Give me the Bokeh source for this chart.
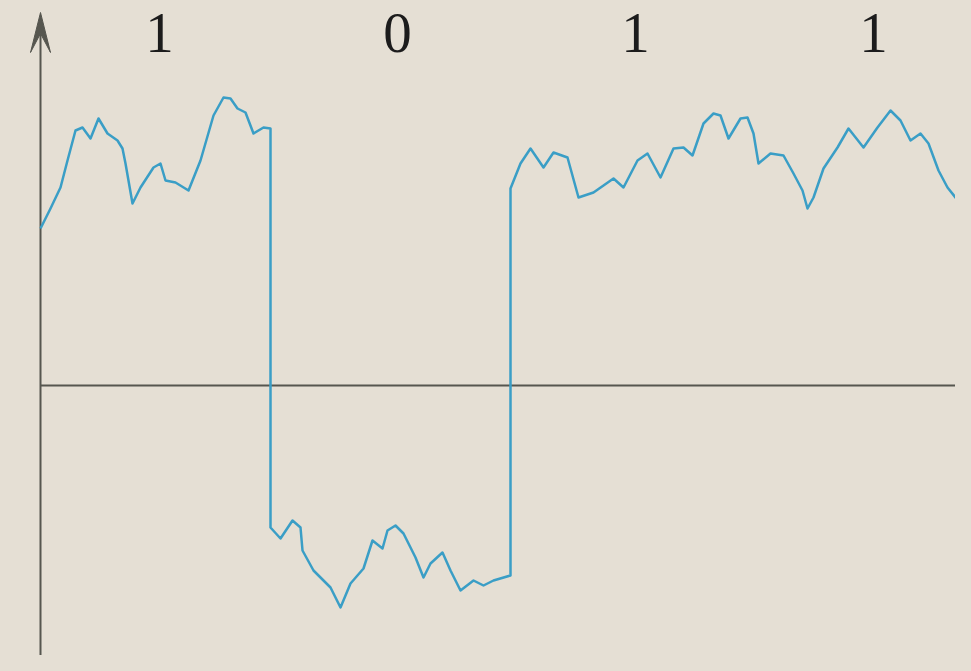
from bokeh.plotting import figure
from bokeh.models import Range1d
from bokeh.core.properties import value
from bokeh.embed import file_html
from bokeh.resources import INLINE

# Bit sequence and timing (time in µs, amplitude in mV)
bits = ["1", "0", "1", "1"]
bit_period = 238

# Noisy received signal
t = [0, 10, 20, 27, 35, 42, 50, 58, 67, 77, 82, 85, 92, 100, 113, 120, 125, 135, 148, 160,
     173, 183, 190, 197, 205, 213, 223, 230, 230, 240, 252, 260, 262, 273, 280, 290, 300,
     310, 323, 332, 342, 347, 355, 363, 375, 383, 390, 402, 410, 420, 433, 443, 453, 470,
     470, 480, 490, 503, 513, 527, 538, 553, 573, 583, 597, 607, 620, 633, 643, 652, 663,
     673, 680, 688, 700, 707, 713, 718, 730, 743, 753, 762, 767, 773, 783, 797, 808, 823,
     837, 850, 860, 870, 880, 888, 898, 907, 923]
v = [157, 177, 198, 225, 255, 258, 247, 267, 252, 245, 237, 222, 182, 198, 218, 222, 205, 203, 195, 225,
     270, 288, 287, 277, 273, 252, 258, 257, -142, -153, -135, -142, -165, -185, -192, -202, -222,
     -198, -183, -155, -163, -145, -140, -148, -172, -192, -178, -167, -185, -205, -195, -200, -195, -190,
     197, 222, 237, 218, 233, 228, 188, 193, 207, 198, 225, 232, 208, 237, 238, 230, 262,
     272, 270, 247, 267, 268, 252, 222, 232, 230, 212, 195, 177, 188, 217, 238, 257, 238,
     258, 275, 265, 245, 252, 242, 215, 198, 178]

BG = "#e5dfd4"
AXIS = "#56564f"
LINE = "#3a9ec6"

p = figure(width=955, height=655, output_backend="svg", toolbar_location=None,
           x_range=Range1d(-40, 915), y_range=Range1d(-270, 385),
           x_axis_type=None, y_axis_type=None, min_border=0,
           background_fill_color=BG, border_fill_color=BG, outline_line_color=None)
p.grid.visible = False

# axes
p.segment(x0=[0], y0=[0], x1=[915], y1=[0], line_color=AXIS, line_width=2)
p.segment(x0=[0], y0=[-270], x1=[0], y1=[352], line_color=AXIS, line_width=2)
# arrow head of the vertical axis
p.patch(x=[0, 10, 0, -10], y=[373, 333, 352, 333],
        fill_color=AXIS, line_color=AXIS, line_width=1, line_join="miter")

# signal
p.line(t, v, line_color=LINE, line_width=2.5, line_join="round")

# bit labels
centers = [(i + 0.5) * bit_period for i in range(len(bits))]
p.text(x=centers, y=[353] * len(bits), text=bits, text_align="center",
       text_baseline="middle", text_font=value("Liberation Serif"),
       text_font_size="57px", text_color="#1c1c1c")

html = file_html(p, INLINE)
html = html.replace("<head>", "<head><style>html,body{background:#e5dfd4;}</style>", 1)
open("out.html", "w").write(html)
